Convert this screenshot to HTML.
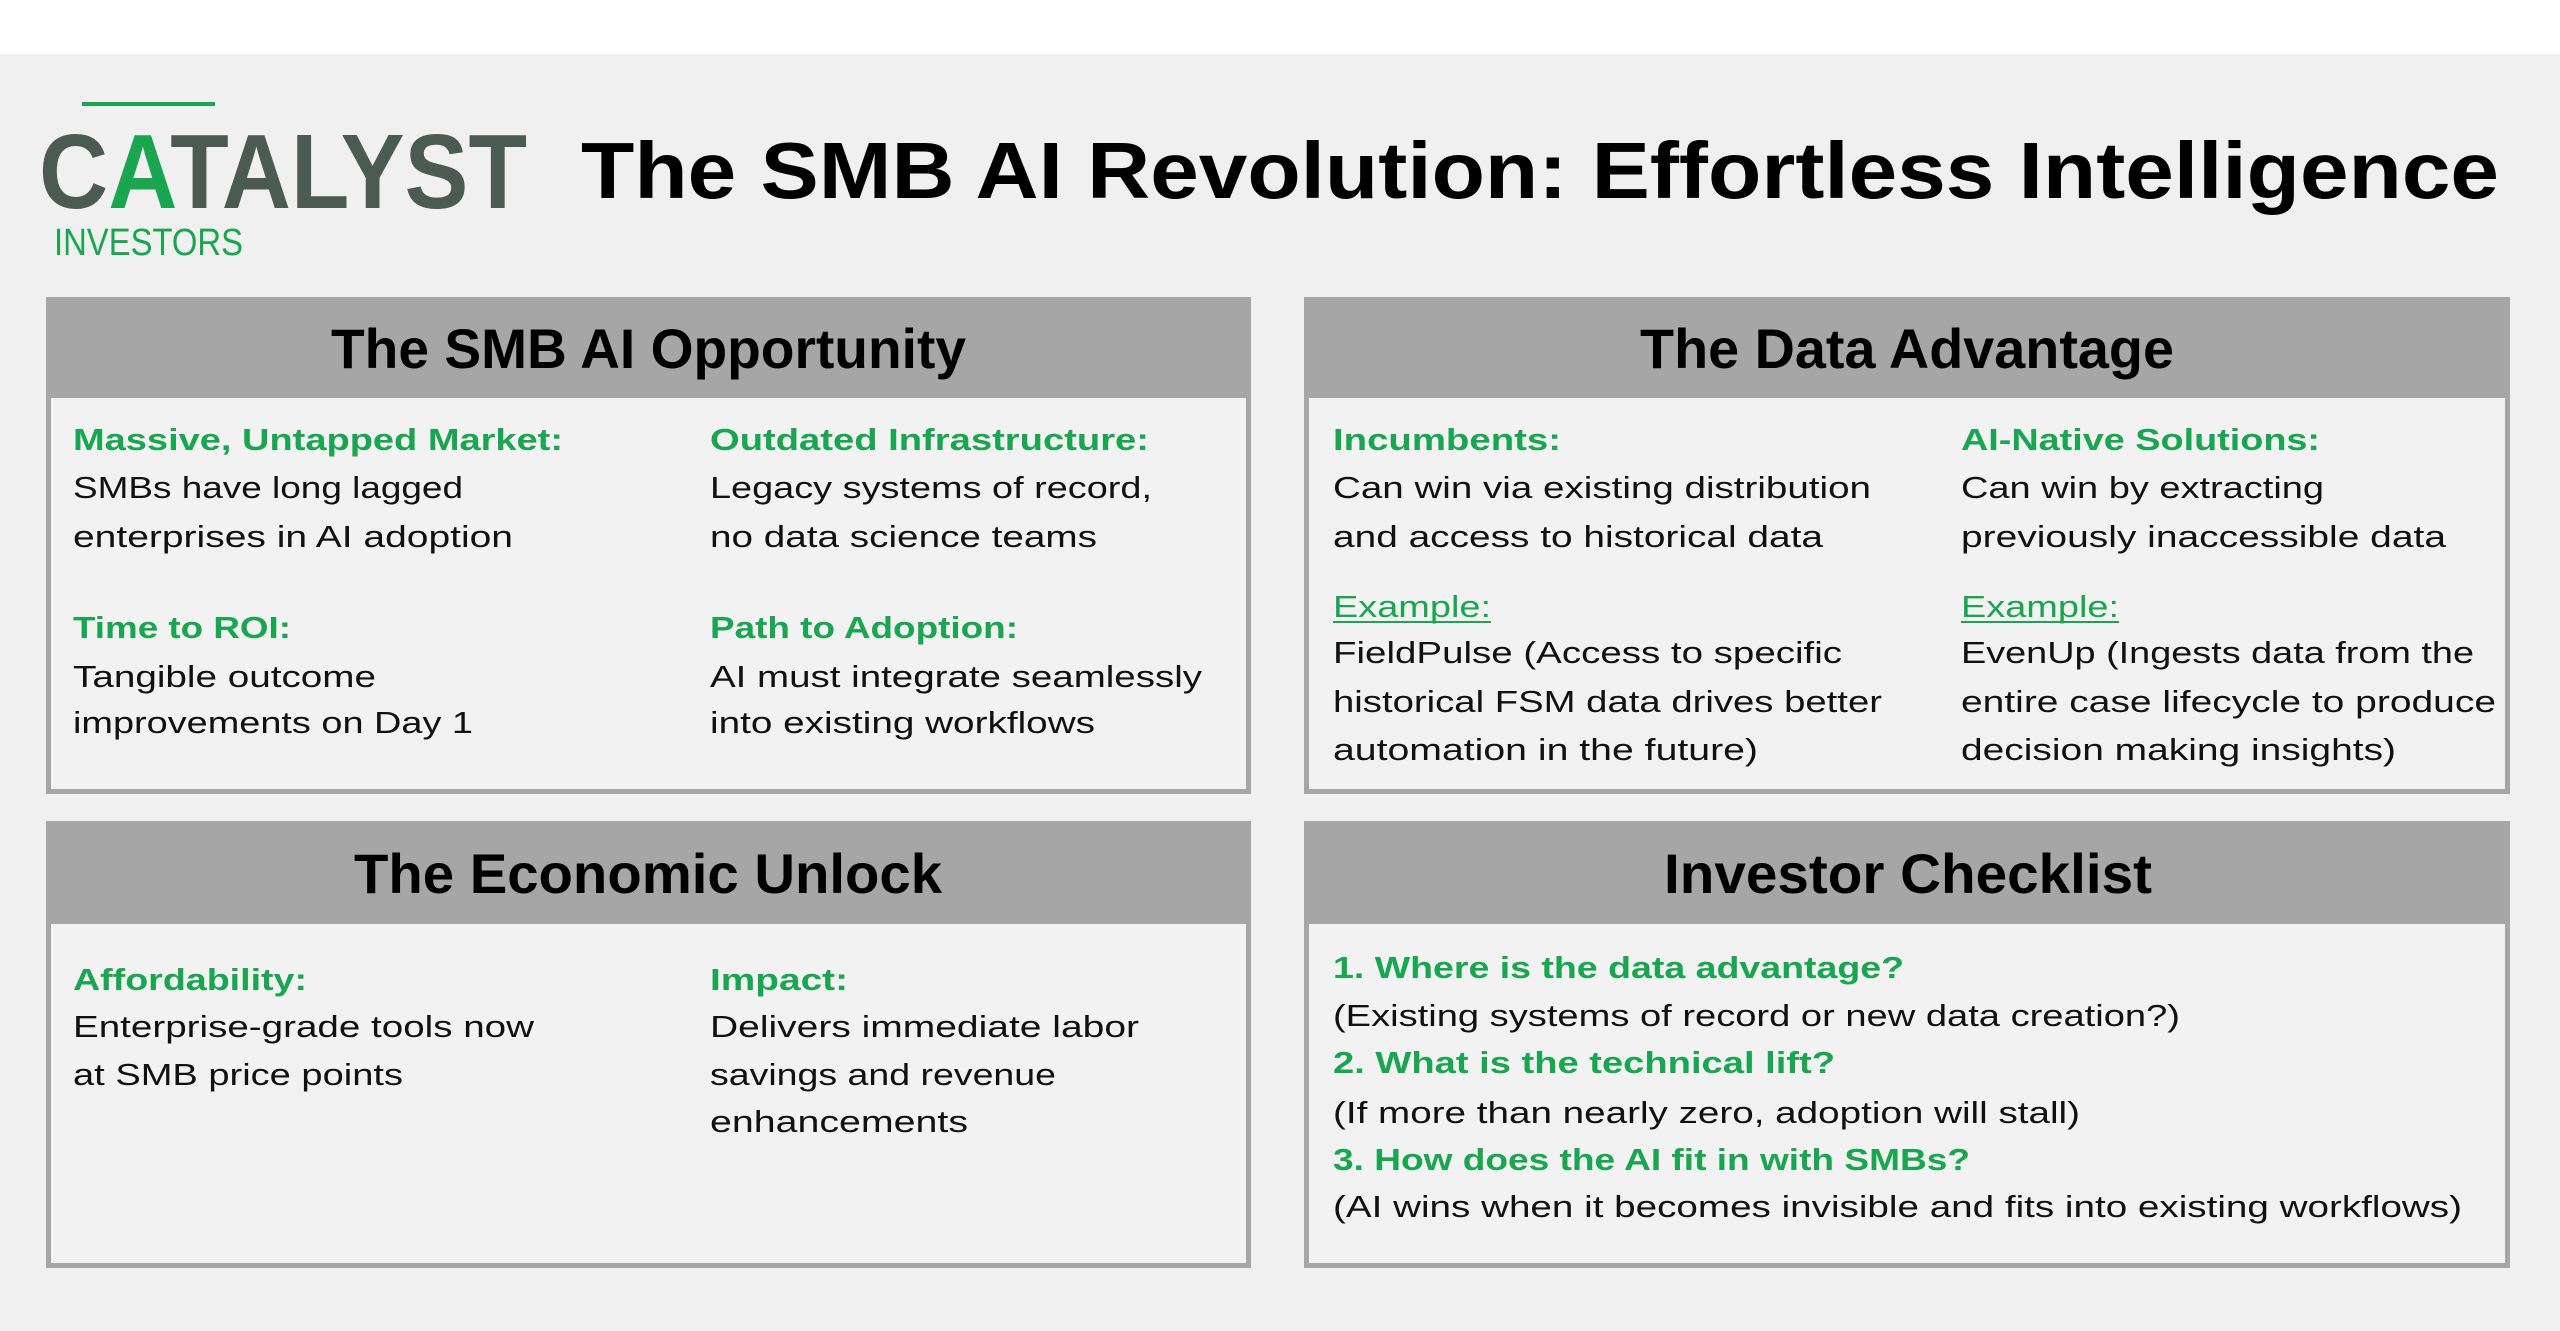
<!DOCTYPE html>
<html><head><meta charset="utf-8"><style>html,body{margin:0;padding:0;background:#fff}svg{display:block}</style></head>
<body>
<svg width="2560" height="1331" viewBox="0 0 2560 1331" xmlns="http://www.w3.org/2000/svg" font-family="Liberation Sans, Arial, sans-serif">
<rect x="0" y="0" width="2560" height="1331" fill="#ffffff"/>
<rect x="0" y="54" width="2560" height="1277" fill="#f0f0f0"/>
<!-- logo -->
<rect x="82" y="102" width="133" height="4" fill="#1aa650"/>
<text x="39" y="208" font-size="106" font-weight="bold" fill="#4b5a52" textLength="488" lengthAdjust="spacingAndGlyphs">C<tspan fill="#1aa650">A</tspan>TALYST</text>
<text x="54" y="255" font-size="38" fill="#1aa650" textLength="189" lengthAdjust="spacingAndGlyphs">INVESTORS</text>
<text x="581" y="198" font-size="80" font-weight="bold" fill="#000" textLength="1918" lengthAdjust="spacingAndGlyphs">The SMB AI Revolution: Effortless Intelligence</text>
<!-- panels -->
<g stroke="#a6a6a6" stroke-width="5" fill="#f2f2f2">
<rect x="48.5" y="299.5" width="1200" height="492"/>
<rect x="1306.5" y="299.5" width="1201" height="492"/>
<rect x="48.5" y="823.5" width="1200" height="442"/>
<rect x="1306.5" y="823.5" width="1201" height="442"/>
</g>
<g fill="#a6a6a6">
<rect x="46" y="297" width="1205" height="101"/>
<rect x="1304" y="297" width="1206" height="101"/>
<rect x="46" y="821" width="1205" height="103"/>
<rect x="1304" y="821" width="1206" height="103"/>
</g>
<g font-size="56" font-weight="bold" fill="#000">
<text x="331" y="368" textLength="635" lengthAdjust="spacingAndGlyphs">The SMB AI Opportunity</text>
<text x="1640" y="368" textLength="534" lengthAdjust="spacingAndGlyphs">The Data Advantage</text>
<text x="354" y="893" textLength="588" lengthAdjust="spacingAndGlyphs">The Economic Unlock</text>
<text x="1664" y="893" textLength="488" lengthAdjust="spacingAndGlyphs">Investor Checklist</text>
</g>
<!-- green headings -->
<g font-size="31" font-weight="bold" fill="#1aa650">
<text x="73" y="450" textLength="490" lengthAdjust="spacingAndGlyphs">Massive, Untapped Market:</text>
<text x="710" y="450" textLength="439" lengthAdjust="spacingAndGlyphs">Outdated Infrastructure:</text>
<text x="73" y="638" textLength="218" lengthAdjust="spacingAndGlyphs">Time to ROI:</text>
<text x="710" y="638" textLength="308" lengthAdjust="spacingAndGlyphs">Path to Adoption:</text>
<text x="1333" y="450" textLength="228" lengthAdjust="spacingAndGlyphs">Incumbents:</text>
<text x="1961" y="450" textLength="359" lengthAdjust="spacingAndGlyphs">AI-Native Solutions:</text>
<text x="73" y="990" textLength="234" lengthAdjust="spacingAndGlyphs">Affordability:</text>
<text x="710" y="990" textLength="138" lengthAdjust="spacingAndGlyphs">Impact:</text>
<text x="1333" y="978" textLength="571" lengthAdjust="spacingAndGlyphs">1. Where is the data advantage?</text>
<text x="1333" y="1073" textLength="502" lengthAdjust="spacingAndGlyphs">2. What is the technical lift?</text>
<text x="1333" y="1170" textLength="637" lengthAdjust="spacingAndGlyphs">3. How does the AI fit in with SMBs?</text>
</g>
<g font-size="31" fill="#1aa650">
<text x="1333" y="617" textLength="158" lengthAdjust="spacingAndGlyphs">Example:</text>
<text x="1961" y="617" textLength="158" lengthAdjust="spacingAndGlyphs">Example:</text>
</g>
<rect x="1333" y="621" width="158" height="2" fill="#1aa650"/>
<rect x="1961" y="621" width="158" height="2" fill="#1aa650"/>
<!-- body -->
<g font-size="31" fill="#111">
<text x="73" y="498" textLength="390" lengthAdjust="spacingAndGlyphs">SMBs have long lagged</text>
<text x="73" y="547" textLength="440" lengthAdjust="spacingAndGlyphs">enterprises in AI adoption</text>
<text x="710" y="498" textLength="442" lengthAdjust="spacingAndGlyphs">Legacy systems of record,</text>
<text x="710" y="547" textLength="387" lengthAdjust="spacingAndGlyphs">no data science teams</text>
<text x="73" y="687" textLength="303" lengthAdjust="spacingAndGlyphs">Tangible outcome</text>
<text x="73" y="733" textLength="400" lengthAdjust="spacingAndGlyphs">improvements on Day 1</text>
<text x="710" y="687" textLength="492" lengthAdjust="spacingAndGlyphs">AI must integrate seamlessly</text>
<text x="710" y="733" textLength="385" lengthAdjust="spacingAndGlyphs">into existing workflows</text>

<text x="1333" y="498" textLength="538" lengthAdjust="spacingAndGlyphs">Can win via existing distribution</text>
<text x="1333" y="547" textLength="490" lengthAdjust="spacingAndGlyphs">and access to historical data</text>
<text x="1333" y="663" textLength="509" lengthAdjust="spacingAndGlyphs">FieldPulse (Access to specific</text>
<text x="1333" y="712" textLength="549" lengthAdjust="spacingAndGlyphs">historical FSM data drives better</text>
<text x="1333" y="760" textLength="425" lengthAdjust="spacingAndGlyphs">automation in the future)</text>
<text x="1961" y="498" textLength="363" lengthAdjust="spacingAndGlyphs">Can win by extracting</text>
<text x="1961" y="547" textLength="485" lengthAdjust="spacingAndGlyphs">previously inaccessible data</text>
<text x="1961" y="663" textLength="513" lengthAdjust="spacingAndGlyphs">EvenUp (Ingests data from the</text>
<text x="1961" y="712" textLength="535" lengthAdjust="spacingAndGlyphs">entire case lifecycle to produce</text>
<text x="1961" y="760" textLength="435" lengthAdjust="spacingAndGlyphs">decision making insights)</text>

<text x="73" y="1037" textLength="461" lengthAdjust="spacingAndGlyphs">Enterprise-grade tools now</text>
<text x="73" y="1085" textLength="330" lengthAdjust="spacingAndGlyphs">at SMB price points</text>
<text x="710" y="1037" textLength="429" lengthAdjust="spacingAndGlyphs">Delivers immediate labor</text>
<text x="710" y="1085" textLength="346" lengthAdjust="spacingAndGlyphs">savings and revenue</text>
<text x="710" y="1132" textLength="258" lengthAdjust="spacingAndGlyphs">enhancements</text>

<text x="1333" y="1026" textLength="847" lengthAdjust="spacingAndGlyphs">(Existing systems of record or new data creation?)</text>
<text x="1333" y="1123" textLength="747" lengthAdjust="spacingAndGlyphs">(If more than nearly zero, adoption will stall)</text>
<text x="1333" y="1217" textLength="1129" lengthAdjust="spacingAndGlyphs">(AI wins when it becomes invisible and fits into existing workflows)</text>
</g>
</svg>
</body></html>
